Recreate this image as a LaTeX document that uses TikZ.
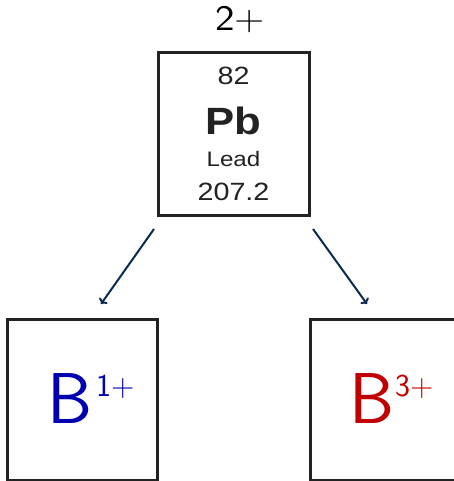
\documentclass[tikz,border=0pt]{standalone}
\usepackage{fontspec}
\newfontfamily\helv{Liberation Sans}
\usetikzlibrary{arrows.meta}
\definecolor{navy}{HTML}{0B2A50}
\definecolor{boxline}{HTML}{222222}
\definecolor{bblue}{HTML}{0000B0}
\definecolor{bred}{HTML}{C00000}
\tikzset{
  elembox/.style={draw=boxline, line width=3pt, minimum width=#1, minimum height=161pt, inner sep=0pt},
  conn/.style={draw=navy, line width=2pt, -{To[length=5pt,width=10pt]}},
  eltext/.style={text=boxline, inner sep=0pt, anchor=base},
  bigsym/.style={inner sep=0pt, anchor=base west, font=\sffamily\fontsize{72}{72}\selectfont},
  supsym/.style={inner sep=0pt, anchor=base west, font=\sffamily\fontsize{32}{32}\selectfont}
}
\newcommand{\wide}[1]{\scalebox{1.15}[1]{#1}}
\begin{document}
\begin{tikzpicture}[x=1pt,y=-1pt]
\useasboundingbox (0,0) rectangle (454,481);
% top element box
\node[elembox=151pt, minimum height=162pt] (pb) at (233.5,134) {};
\node[inner sep=0pt, anchor=base, font=\sffamily\fontsize{36}{36}\selectfont] (charge) at (240,31) {\scalebox{1.15}[1]{2+}};
\node[eltext, font=\helv\fontsize{25}{25}\selectfont] (num) at (233.5,85) {\wide{82}};
\node[eltext, font=\helv\bfseries\fontsize{38}{38}\selectfont] (sym) at (233.5,135) {\wide{Pb}};
\node[eltext, font=\helv\fontsize{21}{21}\selectfont] (name) at (233.5,167) {\wide{Lead}};
\node[eltext, font=\helv\fontsize{25}{25}\selectfont] (mass) at (233.5,200) {\wide{207.2}};
% bottom boxes
\node[elembox=150pt] (left) at (82,399.5) {};
\node[elembox=150pt] (right) at (385,399.5) {};
\node[bigsym, text=bblue] (lb) at (47,423) {B};
\node[supsym, text=bblue] (lsup) at (96,396) {1+};
\node[bigsym, text=bred] (rb) at (349,423) {B};
\node[supsym, text=bred] (rsup) at (395,396) {3+};
% arrows
\coordinate (ls) at (154,229);
\coordinate (le) at (101,304);
\coordinate (rs) at (313,229);
\coordinate (re) at (367,304);
\draw[conn] (ls) -- (le);
\draw[conn] (rs) -- (re);
\end{tikzpicture}
\end{document}
